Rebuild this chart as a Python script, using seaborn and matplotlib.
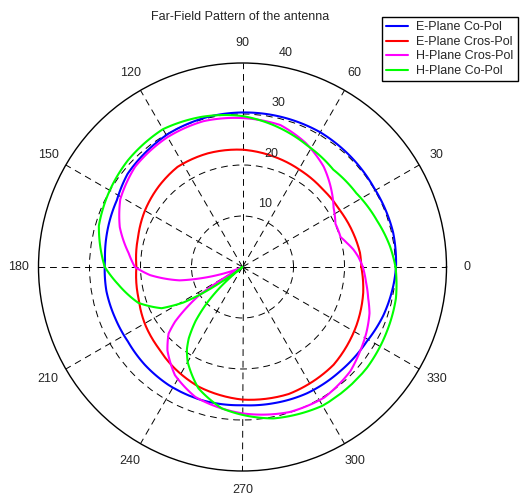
import numpy as np
import pandas as pd
import matplotlib
matplotlib.use("Agg")
import matplotlib.pyplot as plt
import seaborn as sns

# Far-field pattern samples (angle in degrees, gain level on the 0-40 scale)
e_co_theta = [0, 13, 31, 45, 60, 75, 90, 103, 119, 131, 141, 152, 163, 177, 190, 202,
              213, 225, 238, 253, 270, 283, 297, 313, 329, 341, 353, 360]
e_co_r = [30.1, 30.3, 30.1, 30.3, 30.5, 30.4, 30.3, 30.2, 29.9, 29.4, 29.0, 27.9, 27.5,
          27.0, 27.1, 26.9, 26.8, 27.1, 27.3, 27.3, 27.1, 27.4, 27.8, 28.0, 28.4, 29.2,
          29.8, 30.1]

e_cross_theta = [0, 7, 17, 30, 44, 59, 74, 90, 107, 123, 136, 150, 164, 180, 197, 211,
                 224, 236, 250, 270, 290, 313, 333, 348, 360]
e_cross_r = [23.3, 23.2, 22.7, 22.1, 21.9, 22.1, 22.5, 23.0, 23.3, 23.4, 22.8, 22.1,
             21.3, 20.8, 21.3, 22.2, 22.9, 23.9, 25.0, 26.0, 26.5, 26.2, 25.1, 24.2, 23.3]

h_cross_theta = [0, 5, 9, 13, 17, 25, 33, 42, 51, 63, 75, 90, 105, 120, 137, 151, 162,
                 173, 180, 185, 189, 192, 195.5, 198, 201, 204, 207, 209, 211, 213, 216,
                 219, 222, 228, 238, 250, 270, 288, 302, 316, 324, 332, 340, 346, 353, 360]
h_cross_r = [23.6, 22.8, 22.0, 21.0, 20.1, 20.1, 21.3, 23.3, 25.3, 27.3, 28.8, 29.2,
             29.6, 29.4, 28.8, 27.4, 25.3, 22.5, 21.1, 18.2, 15.0, 12.6, 8.0, 5.0, 2.0,
             0.0, 0.0, 1.0, 5.0, 10.0, 13.5, 17.0, 19.5, 22.0, 25.0, 27.1, 28.7, 29.9,
             30.2, 29.4, 28.4, 27.5, 26.5, 25.4, 24.4, 23.6]

h_co_theta = [0, 8, 19, 33, 47, 62, 78, 90, 105, 120, 137, 151, 164, 180, 188, 199, 207,
              211, 213, 215, 217, 218.5, 220, 222, 225, 229, 233, 236, 240, 250, 261.6,
              270, 281.5, 300, 321, 336, 348.5, 360]
h_co_r = [30.0, 29.2, 27.9, 26.6, 26.1, 27.0, 28.5, 29.6, 30.5, 31.2, 30.7, 30.0, 29.3,
          27.0, 24.6, 21.6, 17.8, 13.5, 10.0, 5.5, 2.0, 0.0, 2.0, 5.5, 9.5, 14.0, 17.5,
          19.5, 21.5, 25.3, 28.0, 29.0, 30.3, 31.4, 31.4, 31.0, 30.7, 30.0]

series_names = ["E-Plane Co-Pol", "E-Plane Cros-Pol", "H-Plane Cros-Pol", "H-Plane Co-Pol"]
series_colors = ["#0000ff", "#ff0000", "#ff00ff", "#00ff00"]

angle_ticks = list(range(0, 360, 30))
ring_ticks = [10, 20, 30, 40]
r_max = 40

frames = []
for name, th, rr in zip(series_names,
                        [e_co_theta, e_cross_theta, h_cross_theta, h_co_theta],
                        [e_co_r, e_cross_r, h_cross_r, h_co_r]):
    frames.append(pd.DataFrame({"theta": np.deg2rad(th), "r": rr, "series": name}))
df = pd.concat(frames, ignore_index=True)

sns.set_theme(style="white")
plt.rcParams["font.family"] = ["Liberation Sans", "DejaVu Sans"]

fig = plt.figure(figsize=(5.25, 4.95), dpi=100)
W, H = 525.0, 495.0
cx, cy, rad = 242.5, 267.0, 204.0
ax = fig.add_axes([(cx - rad) / W, (H - cy - rad) / H, 2 * rad / W, 2 * rad / H],
                  projection="polar")
ax.set_facecolor("white")

sns.lineplot(data=df, x="theta", y="r", hue="series", hue_order=series_names,
             palette=series_colors, sort=False, estimator=None, linewidth=1.5, ax=ax)

# let the polar transform follow arcs between samples instead of straight chords
for line in ax.get_lines():
    line.get_path()._interpolation_steps = 24

ax.set_theta_zero_location("E")
ax.set_ylim(0, r_max)
ax.set_yticks(ring_ticks[:-1])
ax.set_yticklabels([])
ax.set_xticks(np.deg2rad(angle_ticks))
ax.set_xticklabels([])
ax.set_xlabel("")
ax.set_ylabel("")
ax.grid(True, color="black", linestyle=(0, (7, 5)), linewidth=0.7)
ax.spines["polar"].set_color("black")
ax.spines["polar"].set_linewidth(1.0)

# angle labels just outside the rim
for a in angle_ticks:
    rr = 1.1 * r_max if a != 270 else 1.095 * r_max
    ax.text(np.deg2rad(a), rr, str(a), ha="center", va="center",
            fontsize=9, clip_on=False)

# ring labels along the 82 degree direction
for v in ring_ticks:
    ax.annotate(str(v), xy=(np.deg2rad(82), v), xytext=(15, 12),
                textcoords="offset pixels", ha="center", va="center", fontsize=9,
                annotation_clip=False)

fig.text(240 / W, 1 - 16.7 / H, "Far-Field Pattern of the antenna",
         ha="center", va="center", fontsize=9)

handles, labels = ax.get_legend_handles_labels()
leg = ax.legend(handles, labels, loc="upper left",
                bbox_to_anchor=(382 / W, 1 - 17 / H), bbox_transform=fig.transFigure,
                frameon=True, fancybox=False, edgecolor="black", framealpha=1,
                fontsize=9, handlelength=1.76, handletextpad=0.64, borderpad=0.35,
                labelspacing=0.2, borderaxespad=0)
leg.get_frame().set_linewidth(1.0)

fig.savefig("out.png", dpi=100)
